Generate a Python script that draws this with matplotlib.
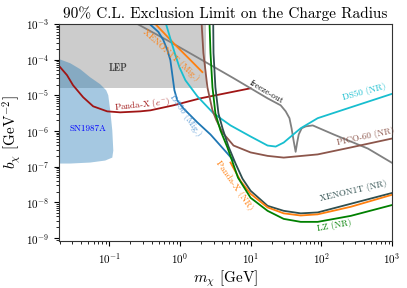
import matplotlib
matplotlib.use("Agg")
import matplotlib.pyplot as plt

plt.rcParams['font.family'] = 'serif'
plt.rcParams['font.serif'] = ['cmr10']
plt.rcParams['mathtext.fontset'] = 'cm'
plt.rcParams['axes.formatter.use_mathtext'] = True
plt.rcParams['axes.unicode_minus'] = False

# excluded regions
lep_m = [0.01, 2.35, 2.35, 0.01]
lep_b = [1.57e-5, 1.57e-5, 1e-2, 1e-2]

sn_m = [0.015, 0.0196, 0.0281, 0.0388, 0.0537, 0.0743, 0.0907, 0.097, 0.1034,
        0.1106, 0.1143, 0.1106, 0.0878, 0.0537, 0.0281, 0.015]
sn_b = [1.1e-4, 1.03e-4, 7.9e-5, 5.4e-5, 3.2e-5, 2.05e-5, 1.38e-5, 1.0e-5, 3.78e-6,
        1.03e-6, 2.82e-7, 1.79e-7, 1.48e-7, 1.30e-7, 1.22e-7, 1.22e-7]

# limit curves
pandax_e_m = [0.0202, 0.0253, 0.0308, 0.0428, 0.0593, 0.0937, 0.143, 0.275, 0.382, 0.809, 1.95, 10.0]
pandax_e_b = [6.15e-5, 3.66e-5, 1.91e-5, 8.8e-6, 4.9e-6, 3.54e-6, 3.32e-6, 3.54e-6, 3.78e-6, 5.22e-6, 8.2e-6, 1.57e-5]

freeze_m = [0.234, 0.733, 1.95, 5.74, 10.0, 17.4, 26.7, 31.4, 35.5, 38.0, 40.6, 43.4,
            45.6, 48.0, 52.9, 60.3, 75.7, 150, 458, 1000]
freeze_b = [1.07e-3, 3.11e-4, 1.03e-4, 3.01e-5, 1.57e-5, 8.2e-6, 5.22e-6, 3.54e-6, 2.28e-6, 1.19e-6,
            5.4e-7, 2.6e-7, 4.7e-7, 7.96e-7, 1.19e-6, 1.34e-6, 1.43e-6, 7.96e-7, 3.2e-7, 1.28e-7]

xe_mig_m = [0.434, 0.863, 1.41, 2.08]
xe_mig_b = [1.07e-3, 2.56e-4, 9.7e-5, 4.45e-5]

ds50_mig_m = [0.358, 0.496, 0.583, 0.665, 0.733, 0.783, 0.837, 0.918, 1.12, 1.77, 2.71, 4.71, 5.74]
ds50_mig_b = [1.07e-3, 5.96e-4, 3.54e-4, 1.85e-4, 9.7e-5, 3.66e-5, 1.38e-5, 7.2e-6, 4.3e-6,
              1.73e-6, 7.96e-7, 2.33e-7, 1.48e-7]

ds50_nr_m = [0.623, 0.687, 0.758, 0.863, 0.984, 1.197, 1.77, 2.99, 5.2, 10, 17.4, 22.7, 29.4,
             51.2, 89.1, 262, 1050]
ds50_nr_b = [1.14e-3, 5.96e-4, 3.11e-4, 1.34e-4, 6.15e-5, 2.63e-5, 9.3e-6, 3.11e-6, 1.43e-6,
             6.99e-7, 3.9e-7, 3.65e-7, 4.72e-7, 1.19e-6, 2.28e-6, 4.6e-6, 1.13e-5]

pico_m = [2.02, 2.15, 2.45, 2.89, 3.29, 4.01, 5.74, 10, 17.4, 29.4, 89.1, 262, 1030]
pico_b = [1.2e-3, 1.53e-4, 1.68e-5, 3.78e-6, 1.98e-6, 9.0e-7, 3.9e-7, 2.5e-7, 2.0e-7, 1.79e-7,
          2.2e-7, 3.45e-7, 6.2e-7]

lz_m = [2.62, 2.71, 2.89, 3.18, 3.75, 4.71, 6.64, 10, 17.4, 29.4, 51.2, 89.1, 262, 1030]
lz_b = [1.2e-3, 1.53e-4, 1.68e-5, 3.11e-6, 1.03e-6, 3.43e-7, 4.9e-8, 1.34e-8, 5.77e-9, 3.43e-9,
        2.83e-9, 2.83e-9, 4.17e-9, 8.5e-9]

xe_nr_m = [2.96, 2.99, 3.18, 3.51, 4.01, 4.87, 6.13, 7.68, 10, 17.4, 29.4, 51.2, 89.1, 262, 1030]
xe_nr_b = [1.2e-3, 1.53e-4, 1.68e-5, 3.11e-6, 1.19e-6, 3.65e-7, 1.22e-7, 4.6e-8, 2.11e-8,
           7.96e-9, 5.77e-9, 4.9e-9, 5.2e-9, 9.1e-9, 1.85e-8]

pandax_nr_m = [5.2, 7.2, 10, 17.4, 29.4, 51.2, 89.1, 262, 1030]
pandax_nr_b = [1.3e-7, 4.0e-8, 1.73e-8, 7.2e-9, 4.9e-9, 4.27e-9, 4.6e-9, 7.5e-9, 1.65e-8]

fig = plt.figure(figsize=(4.07, 2.88), dpi=100)
ax = fig.add_axes([0.145, 0.163, 0.818, 0.754])

ax.fill(lep_m, lep_b, color='gray', alpha=0.4, lw=0)
ax.fill(sn_m, sn_b, color='tab:blue', alpha=0.4, lw=0)

lw = 1.3
ax.plot(pandax_e_m, pandax_e_b, color='#a01515', lw=lw)
ax.plot(freeze_m, freeze_b, color='gray', lw=lw)
ax.plot(xe_mig_m, xe_mig_b, color='tab:orange', lw=lw)
ax.plot(ds50_mig_m, ds50_mig_b, color='tab:blue', lw=lw)
ax.plot(ds50_nr_m, ds50_nr_b, color='tab:cyan', lw=lw)
ax.plot(pico_m, pico_b, color='tab:brown', lw=lw)
ax.plot(xe_nr_m, xe_nr_b, color='darkslategray', lw=lw)
ax.plot(pandax_nr_m, pandax_nr_b, color='tab:orange', lw=lw)
ax.plot(lz_m, lz_b, color='green', lw=lw)

fs = 6.5
ax.text(0.134, 5.75e-5, 'LEP', color='#444444', fontsize=7, ha='center', va='center', family='cmb10')
ax.text(0.0504, 1.18e-6, 'SN1987A', color='blue', fontsize=fs, ha='center', va='center')
ax.text(0.29, 5.5e-6, r'Panda-X $(e^{-})$', color='#a01515', fontsize=fs, ha='center', va='center', rotation=6)
ax.text(1.2, 2.73e-6, 'DS50 (Mig.)', color='#5b9bd5', fontsize=fs, ha='center', va='center', rotation=-55)
ax.text(0.74, 1.34e-4, 'XENON1T (Mig.)', color='tab:orange', fontsize=fs, ha='center', va='center', rotation=-42)
ax.text(16.9, 1.22e-5, 'freeze-out', color='black', fontsize=fs, ha='center', va='center', rotation=-31)
ax.text(401, 1.22e-5, 'DS50 (NR)', color='tab:cyan', fontsize=fs, ha='center', va='center', rotation=15)
ax.text(428, 7.0e-7, 'PICO-60 (NR)', color='tab:brown', fontsize=fs, ha='center', va='center', rotation=12)
ax.text(280, 2.11e-8, 'XENON1T (NR)', color='darkslategray', fontsize=fs, ha='center', va='center', rotation=13)
ax.text(155, 2.18e-9, 'LZ (NR)', color='green', fontsize=fs, ha='center', va='center', rotation=10)
ax.text(5.93, 2.92e-8, 'Panda-X (NR)', color='tab:orange', fontsize=fs, ha='center', va='center', rotation=-55)

ax.set_xscale('log')
ax.set_yscale('log')
ax.set_xlim(0.0195, 1000)
ax.set_ylim(8.2e-10, 1e-3)
ax.set_xlabel(r'$m_\chi$ [GeV]', fontsize=11, labelpad=2)
ax.set_ylabel(r'$b_\chi$ [GeV$^{-2}$]', fontsize=11, labelpad=2)
ax.set_title('90% C.L. Exclusion Limit on the Charge Radius', fontsize=11, pad=4)
ax.tick_params(labelsize=8)
for s in ax.spines.values():
    s.set_color('#333333')

fig.savefig('out.png', dpi=100)
